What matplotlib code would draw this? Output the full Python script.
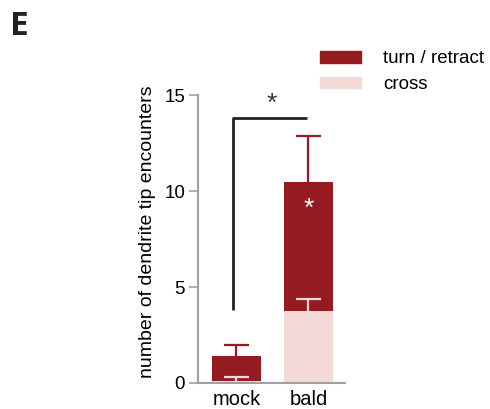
import numpy as np
import matplotlib.pyplot as plt
from matplotlib.patches import Patch

plt.rcParams['font.family'] = ['Liberation Sans', 'DejaVu Sans']

groups = ['mock', 'bald']
cross = [0.12, 3.73]
cross_err = [0.17, 0.66]
turn = [1.30, 6.77]
turn_err = [0.54, 2.38]
y_ticks = [0, 5, 10, 15]

dark_red = '#961b20'
pink = '#f3dad6'
axis_gray = '#a0a0a0'

fig = plt.figure(figsize=(4.9, 4.09), dpi=100)
ax = fig.add_axes([0.4047, 0.0636, 0.2994, 0.7034])

x = np.arange(len(groups))
cross = np.array(cross)
turn = np.array(turn)
width = 0.68

# stacked bars: cross on the bottom, turn/retract above
ax.bar(x, cross, width, color=pink, zorder=2)
ax.bar(x, turn, width, bottom=cross, color=dark_red, zorder=2)


def upper_errbar(xs, ys, err, color):
    # only the upward whisker and its cap
    eb = ax.errorbar(xs, ys, yerr=[np.zeros(len(xs)), err], fmt='none',
                     ecolor=color, elinewidth=1.6, capsize=9, capthick=1.6,
                     zorder=3)
    eb[1][0].set_visible(False)


upper_errbar(x, cross + turn, turn_err, dark_red)
upper_errbar(x, cross, cross_err, pink)

# significance bracket between groups
bx0, bx1 = -0.044, 0.979
ax.plot([bx0, bx0, bx1], [3.82, 13.8, 13.8], color='#222222', lw=2,
        solid_capstyle='butt', zorder=3, clip_on=False)
ax.text(0.49, 14.55, '*', ha='center', va='center', fontsize=19, color='#333333')
ax.text(1, 9.1, '*', ha='center', va='center', fontsize=19, color='white', zorder=4)

ax.set_xlim(-0.53, 1.507)
ax.set_ylim(0, 15)
ax.set_xticks(x)
ax.set_xticklabels(groups, fontsize=14.5)
ax.set_yticks(y_ticks)
ax.set_yticklabels([str(t) for t in y_ticks], fontsize=13.5)
ax.tick_params(axis='x', length=0, pad=5)
ax.tick_params(axis='y', length=6.5, width=1.2, color=axis_gray, pad=3)
ax.set_ylabel('number of dendrite tip encounters', fontsize=14)
ax.yaxis.set_label_coords(-0.29, 0.525)

for s in ['top', 'right']:
    ax.spines[s].set_visible(False)
for s in ['left', 'bottom']:
    ax.spines[s].set_color(axis_gray)
    ax.spines[s].set_linewidth(1.5)

handles = [Patch(color=dark_red, label='turn / retract'),
           Patch(color=pink, label='cross')]
fig.legend(handles=handles, loc='upper left', bbox_to_anchor=(0.637, 0.895),
           frameon=False, fontsize=13.5, handlelength=2.2, handleheight=0.56,
           handletextpad=1.2, labelspacing=0.45, borderaxespad=0)

fig.text(0.02, 0.975, 'E', fontsize=24, fontweight='bold', va='top', ha='left',
         color='#222222', family=['Open Sans', 'DejaVu Sans'])

fig.savefig('out.png', dpi=100)
